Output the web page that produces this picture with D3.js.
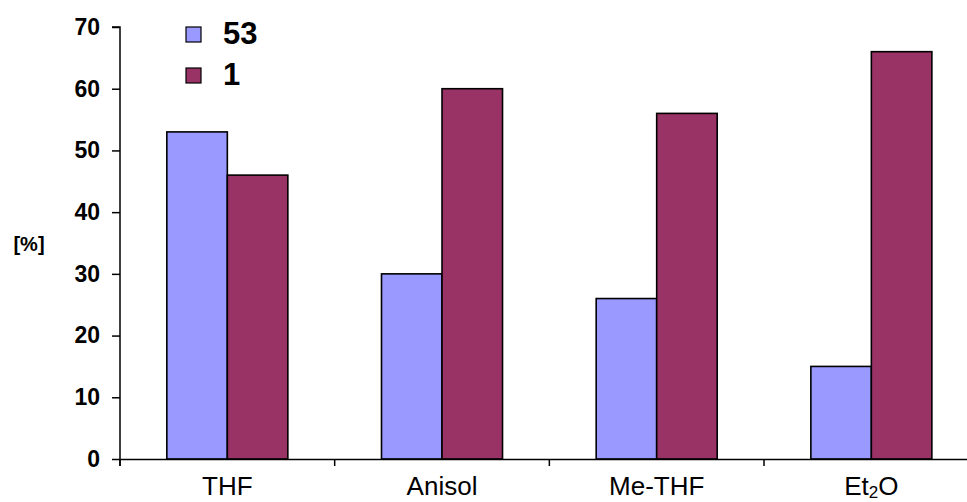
<!DOCTYPE html>
<html>
<head>
<meta charset="utf-8">
<script src="https://cdn.jsdelivr.net/npm/d3@7"></script>
<style>
  html, body { margin: 0; padding: 0; background: #fff; }
  svg { display: block; font-family: "Liberation Sans", Arial, sans-serif; }
</style>
</head>
<body>
<svg id="chart" width="967" height="502"></svg>
<script>
const categories = ["THF", "Anisol", "Me-THF", "Et2O"];
const seriesNames = ["53", "1"];
const values53 = [53, 30, 26, 15];
const values1 = [46, 60, 56, 66];
const yTicks = [0, 10, 20, 30, 40, 50, 60, 70];
const colors = ["#9999FF", "#993366"];

const seriesValues = [values53, values1];
const svg = d3.select("#chart");

const x0 = d3.scaleBand().domain(categories).range([120, 978.7]).paddingInner(0).paddingOuter(0);
const x1 = d3.scaleBand().domain(seriesNames).range([0, x0.bandwidth()]).paddingInner(0).paddingOuter(0.774);
const y = d3.scaleLinear().domain([0, 70]).range([459, 27]);

// bars
const groups = svg.append("g").selectAll("g")
  .data(categories)
  .join("g")
  .attr("transform", d => `translate(${x0(d)},0)`);

groups.selectAll("rect")
  .data((c, i) => seriesNames.map((s, j) => ({ s, j, v: seriesValues[j][i] })))
  .join("rect")
  .attr("x", d => x1(d.s))
  .attr("width", x1.bandwidth())
  .attr("y", d => y(d.v))
  .attr("height", d => y(0) - y(d.v))
  .attr("fill", d => colors[d.j])
  .attr("stroke", "#000")
  .attr("stroke-width", 1.6);

// y axis
const yAxis = svg.append("g")
  .attr("transform", `translate(${x0.range()[0]},0)`)
  .call(d3.axisLeft(y).tickValues(yTicks).tickSize(8).tickPadding(12).tickFormat(d3.format("d")));
yAxis.select(".domain").attr("stroke", "#000").attr("stroke-width", 1.5).attr("d", `M-8,${y(70)}H0V${y(0) + 7}`);
yAxis.selectAll(".tick line").attr("stroke", "#000").attr("stroke-width", 1.5);
yAxis.selectAll(".tick text")
  .attr("font-family", "'Liberation Sans', Arial, sans-serif")
  .attr("font-size", 23).attr("font-weight", "bold").attr("fill", "#000");

// x axis
const xAxis = svg.append("g")
  .attr("transform", `translate(0,${y(0)})`)
  .call(d3.axisBottom(x0).tickSize(0).tickPadding(18));
xAxis.select(".domain").attr("stroke", "#000").attr("stroke-width", 1.5);
xAxis.selectAll(".tick text")
  .attr("font-family", "'Liberation Sans', Arial, sans-serif")
  .attr("font-size", 26).attr("fill", "#000")
  .each(function (d) {
    const t = d3.select(this);
    const m = d.match(/^([A-Za-z]+)(\d)([A-Za-z]+)$/);
    if (m) {
      t.text(null);
      t.append("tspan").text(m[1]);
      t.append("tspan").text(m[2]).attr("font-size", 17).attr("dy", 3);
      t.append("tspan").text(m[3]).attr("dy", -3);
    }
  });
// boundary ticks between categories
xAxis.selectAll("line.bound")
  .data(categories)
  .join("line")
  .attr("class", "bound")
  .attr("x1", d => x0(d)).attr("x2", d => x0(d))
  .attr("y1", 0).attr("y2", 7)
  .attr("stroke", "#000").attr("stroke-width", 1.5);

// y label
svg.append("text")
  .attr("x", 29).attr("y", 251)
  .attr("text-anchor", "middle")
  .attr("font-size", 20).attr("font-weight", "bold")
  .text("[%]");

// legend
const legend = svg.append("g").selectAll("g")
  .data(seriesNames)
  .join("g")
  .attr("transform", (d, i) => `translate(186,${27 + i * 41})`);
legend.append("rect")
  .attr("width", 15).attr("height", 15)
  .attr("fill", (d, i) => colors[i])
  .attr("stroke", "#000").attr("stroke-width", 1.2);
legend.append("text")
  .attr("x", 37).attr("y", 17)
  .attr("font-size", 31).attr("font-weight", "bold")
  .text(d => d);
</script>
</body>
</html>
